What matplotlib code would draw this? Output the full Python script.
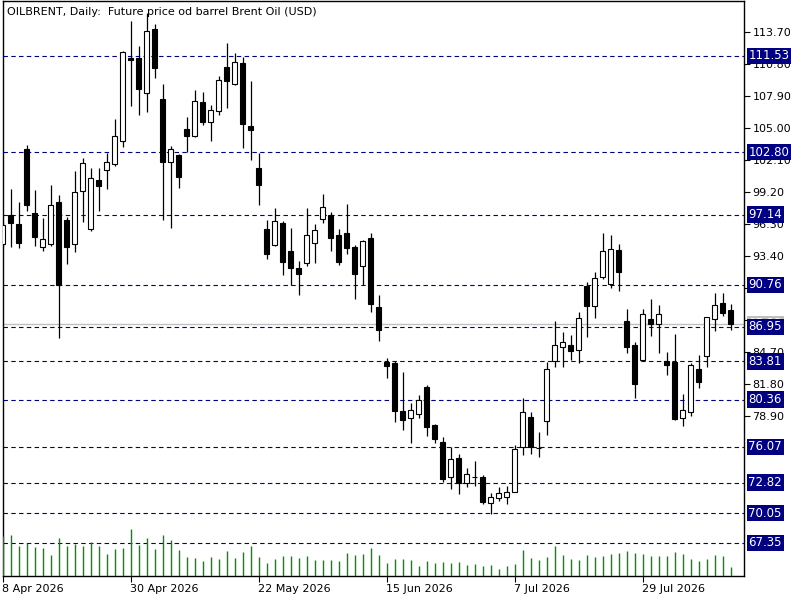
import pandas as pd
import matplotlib.pyplot as plt
import matplotlib.transforms as mtransforms

title = 'OILBRENT, Daily:  Future price od barrel Brent Oil (USD)'

open_ = [94.44, 97.07, 96.28, 103.08, 97.28, 94.22, 94.49, 98.27, 96.64, 94.44,
         99.25, 95.80, 100.27, 101.21, 101.72, 103.85, 111.31, 111.31, 108.12, 113.94,
         107.62, 101.88, 102.54, 104.90, 104.29, 107.32, 105.56, 106.56, 110.52, 109.01,
         110.86, 105.17, 101.33, 95.83, 94.35, 96.37, 93.83, 92.29, 92.77, 94.53,
         96.76, 97.07, 95.28, 95.46, 94.19, 92.50, 95.01, 88.75, 83.76, 83.70,
         79.31, 78.71, 79.01, 81.49, 78.02, 76.47, 73.30, 75.05, 72.81, 73.33,
         73.33, 70.94, 71.39, 71.49, 71.99, 76.08, 78.74, 75.95, 78.38, 83.82,
         85.09, 85.27, 84.82, 90.65, 88.81, 91.44, 90.81, 93.89, 87.48, 85.27,
         83.91, 87.66, 87.18, 83.82, 83.73, 78.65, 79.20, 83.10, 84.33, 87.63,
         89.09, 88.48]
high = [96.46, 99.45, 98.30, 103.45, 99.36, 96.82, 99.82, 98.91, 96.89, 101.09,
        102.24, 101.33, 101.33, 102.69, 105.80, 112.00, 114.69, 112.43, 115.39, 114.42,
        108.98, 103.36, 102.60, 105.96, 108.44, 108.23, 107.07, 109.71, 112.67, 111.76,
        111.46, 109.25, 102.75, 96.64, 97.70, 96.55, 95.92, 92.92, 97.73, 96.31,
        99.00, 97.34, 95.80, 98.09, 94.37, 94.80, 95.46, 89.84, 84.10, 83.85,
        82.85, 80.04, 80.77, 81.67, 78.11, 76.93, 76.05, 75.41, 74.14, 74.78,
        73.51, 71.85, 72.42, 72.51, 76.26, 80.47, 79.22, 77.38, 83.79, 87.51,
        86.45, 86.18, 88.30, 91.02, 91.92, 95.44, 95.28, 94.46, 88.57, 85.55,
        88.57, 89.47, 88.93, 84.67, 86.30, 80.86, 83.64, 84.39, 87.85, 90.02,
        90.02, 89.02]
low = [94.19, 94.22, 94.13, 97.49, 94.31, 93.86, 94.31, 85.96, 92.65, 93.77,
       96.49, 95.67, 97.49, 99.45, 101.57, 103.24, 107.01, 106.17, 106.47, 109.55,
       96.64, 95.94, 99.52, 102.78, 104.20, 105.29, 103.81, 106.17, 106.83, 108.89,
       103.20, 102.08, 98.00, 93.10, 94.31, 91.65, 90.72, 89.84, 92.50, 92.74,
       96.40, 93.86, 92.56, 93.58, 89.50, 90.72, 88.32, 85.69, 82.35, 78.34,
       77.62, 76.44, 78.71, 77.07, 76.38, 72.85, 72.26, 71.81, 72.45, 72.54,
       70.90, 70.00, 71.18, 70.90, 71.97, 75.35, 75.44, 75.17, 77.16, 83.33,
       83.28, 83.94, 83.64, 86.05, 87.78, 91.26, 90.50, 90.23, 84.55, 80.49,
       83.88, 86.15, 84.55, 82.55, 78.52, 77.98, 78.89, 81.43, 83.28, 86.60,
       87.96, 86.69]
close = [96.16, 96.40, 94.58, 98.03, 95.13, 94.92, 98.00, 90.72, 94.22, 99.18,
         101.79, 100.43, 99.75, 101.88, 104.26, 111.86, 111.13, 108.55, 113.83, 110.46,
         101.93, 103.06, 100.54, 104.29, 107.44, 105.51, 106.59, 109.34, 109.28, 110.95,
         105.38, 104.83, 99.84, 93.58, 96.52, 92.86, 92.31, 91.77, 95.28, 95.71,
         97.79, 95.04, 92.86, 94.13, 91.77, 94.74, 89.05, 86.69, 83.44, 79.34,
         78.50, 79.38, 80.28, 77.89, 76.75, 73.12, 74.96, 72.76, 73.57, 73.30,
         71.09, 71.49, 71.85, 71.94, 75.87, 79.20, 76.02, 75.98, 83.10, 85.27,
         85.55, 84.78, 87.72, 88.87, 91.35, 93.80, 93.98, 91.95, 85.15, 81.74,
         88.09, 87.18, 88.09, 83.46, 78.59, 79.38, 83.46, 81.97, 87.81, 88.90,
         88.23, 87.23]
# tick volume (thousands)
volume = [40, 41, 30, 33, 29, 28, 21, 38, 30, 32,
          30, 34, 30, 22, 27, 28, 47, 31, 38, 27,
          41, 36, 26, 19, 18, 15, 19, 17, 25, 18,
          24, 30, 19, 13, 17, 20, 20, 18, 20, 16,
          16, 16, 15, 23, 21, 22, 28, 21, 13, 17,
          17, 16, 10, 15, 13, 14, 13, 14, 11, 12,
          10, 11, 7, 10, 12, 26, 18, 16, 19, 30,
          21, 17, 16, 21, 19, 20, 22, 23, 25, 23,
          22, 20, 20, 20, 24, 22, 17, 15, 17, 21,
          20, 9]
levels = [111.53, 102.80, 97.14, 90.76, 86.95, 83.81, 80.36, 76.07, 72.82, 70.05, 67.35]

dates = pd.bdate_range('2026-04-08', periods=len(close))
x = list(range(len(close)))

plt.rcParams['font.family'] = ['DejaVu Sans']
fig = plt.figure(figsize=(8, 6), dpi=100)
ax = fig.add_axes([2.5 / 800, 24 / 600, 741.5 / 800, 575 / 600])

# volumes on their own scale at the bottom
ax2 = ax.twinx()
ax2.vlines(x, 0, volume, color='#009000', lw=1)
ax2.set_ylim(0, max(volume) / 0.082)
ax2.set_yticks([])
for s in ax2.spines.values():
    s.set_visible(False)

ax.axhline(close[-1], color='#c0c0c0', lw=1, zorder=1)
for lv in levels:
    ax.axhline(lv, color='#000080', lw=0.8, ls=(0, (4, 3)), zorder=1)

ax.vlines(x, low, high, color='black', lw=0.9, zorder=2)
bottoms = [min(o, c) for o, c in zip(open_, close)]
heights = [abs(c - o) for o, c in zip(open_, close)]
colors = ['white' if c >= o else 'black' for o, c in zip(open_, close)]
ax.bar(x, heights, bottom=bottoms, width=0.55, color=colors,
       edgecolor='black', linewidth=0.8, zorder=3)

ax.set_xlim(0, 741.5 / 8)
ax.set_ylim(64.35, 116.51)

# scale labels below 78.90 sit fully under the level boxes
yt = [113.70 - 2.9 * k for k in range(13)]
ax.yaxis.tick_right()
ax.set_yticks(yt)
ax.set_yticklabels(['%.2f' % v for v in yt])
ax.tick_params(axis='y', length=4, pad=2, labelsize=8, width=0.8)

xt = list(range(0, len(close), 16))
ax.set_xticks(xt)
ax.set_xticklabels(['%d %s' % (dates[i].day, dates[i].strftime('%b %Y')) for i in xt])
ax.tick_params(axis='x', length=4, pad=2, labelsize=8, width=0.8)
for lab in ax.get_xticklabels():
    lab.set_ha('left')

for s in ax.spines.values():
    s.set_linewidth(1)

trans = mtransforms.blended_transform_factory(ax.transAxes, ax.transData)
ax.text(1.006, close[-1], '%.2f' % close[-1], transform=trans, fontsize=8.5,
        color='white', va='center', ha='left', clip_on=False, zorder=5,
        bbox=dict(boxstyle='square,pad=0.15', fc='#c0c0c0', ec='none'))
for lv in levels:
    ax.text(1.006, lv, '%.2f' % lv, transform=trans, fontsize=8.5, color='white',
            va='center', ha='left', clip_on=False, zorder=6,
            bbox=dict(boxstyle='square,pad=0.15', fc='#000080', ec='none'))

ax.text(0.006, 0.99, title, transform=ax.transAxes, fontsize=8, va='top', ha='left')

fig.savefig('out.png', dpi=100, facecolor='white')
